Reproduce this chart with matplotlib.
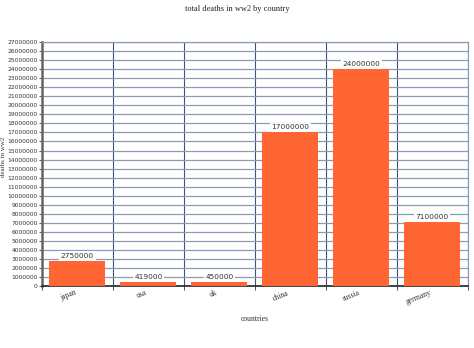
import numpy as np
import matplotlib.pyplot as plt
from matplotlib.ticker import MultipleLocator, FixedLocator

countries = ["japan", "usa", "uk", "china", "russia", "germany"]
deaths = [2750000, 419000, 450000, 17000000, 24000000, 7100000]

fig = plt.figure(figsize=(4.74, 3.48), dpi=100)
ax = fig.add_axes([0.0886, 0.178, 0.898, 0.701])

x = np.arange(len(countries))
ax.bar(x, deaths, width=0.79, color="#ff6633", zorder=3)

for xi, v in zip(x, deaths):
    ax.text(xi, v + 250000, str(v), ha="center", va="bottom", fontsize=5.3,
            color="#333333", zorder=4,
            bbox=dict(facecolor="white", edgecolor="none", pad=1.2))

ax.set_xlim(-0.5, len(countries) - 0.5)
ax.set_ylim(0, 27000000)
ax.yaxis.set_major_locator(MultipleLocator(1000000))
ax.yaxis.set_major_formatter(plt.FuncFormatter(lambda v, p: "%d" % v))
ax.set_xticks(x)
ax.set_xticklabels(countries, rotation=22, ha="right", fontsize=5.5, color="#333333",
                   family="Liberation Serif")
ax.tick_params(axis="y", labelsize=4.3, labelcolor="#333333", length=2, width=0.8, color="#666666", pad=1)
ax.tick_params(axis="x", length=0, pad=2)

ax.xaxis.set_minor_locator(FixedLocator(np.arange(-0.5, len(countries), 1.0)))
ax.grid(axis="y", which="major", color="#8a9bb5", linewidth=0.9, zorder=0)
ax.grid(axis="x", which="minor", color="#3d5478", linewidth=0.8, zorder=0)
ax.tick_params(axis="x", which="minor", length=3, color="#333333")

for s in ["top", "right"]:
    ax.spines[s].set_color("#8a9bb5")
    ax.spines[s].set_linewidth(0.9)
ax.spines["left"].set_color("#666666")
ax.spines["left"].set_linewidth(1.8)
ax.spines["bottom"].set_color("#222222")
ax.spines["bottom"].set_linewidth(1.2)

ax.set_xlabel("countries", fontsize=5.5, color="#333333", family="Liberation Serif", labelpad=6)
fig.text(0.0075, 0.55, "deaths in ww2", rotation=90, ha="center", va="center",
         fontsize=5, color="#333333", family="Liberation Serif")
fig.text(0.5, 0.985, "total deaths in ww2 by country", ha="center", va="top",
         fontsize=6, family="Liberation Serif", color="#222222")

fig.savefig("out.png", dpi=100)
